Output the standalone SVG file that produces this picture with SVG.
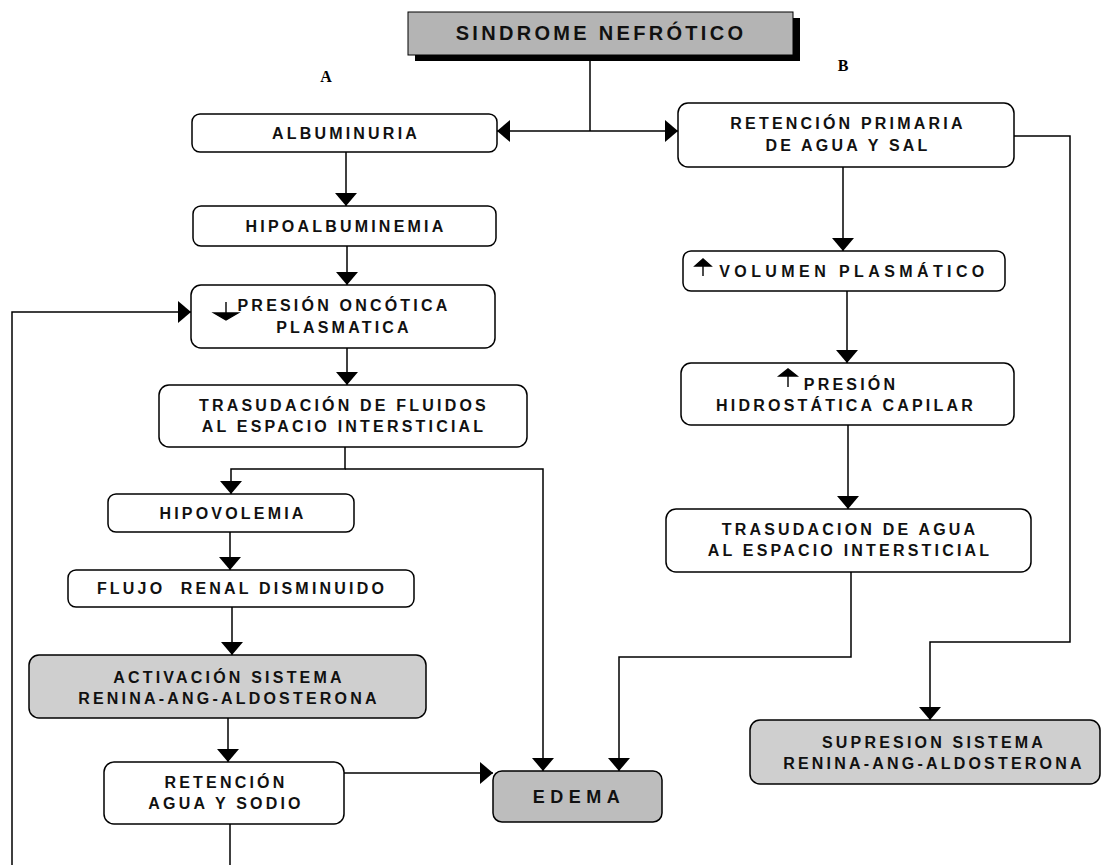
<svg xmlns="http://www.w3.org/2000/svg" width="1108" height="865" viewBox="0 0 1108 865">
<defs>
<marker id="ah" viewBox="0 0 13 22" refX="13" refY="11" markerWidth="13" markerHeight="22" markerUnits="userSpaceOnUse" orient="auto">
<path d="M0,0 L13,11 L0,22 z" fill="#000"/>
</marker>
<style>
.box{fill:#fff;stroke:#000;stroke-width:1.5}
.g1{fill:#cfcfcf;stroke:#000;stroke-width:1.5}
.g2{fill:#bdbdbd;stroke:#000;stroke-width:1.5}
.t{font-family:"Liberation Sans",Arial,sans-serif;font-weight:bold;font-size:16px;letter-spacing:3.2px;fill:#111;text-anchor:middle}
.title{font-family:"Liberation Sans",Arial,sans-serif;font-weight:bold;font-size:20px;letter-spacing:3.3px;fill:#111;text-anchor:middle}
.lab{font-family:"Liberation Serif","Times New Roman",serif;font-weight:bold;font-size:16px;fill:#000;text-anchor:middle}
.c{fill:none;stroke:#000;stroke-width:1.5}
.ca{fill:none;stroke:#000;stroke-width:1.5;marker-end:url(#ah)}
.sym{fill:#000;stroke:#000;stroke-width:1.4}
</style>
</defs>
<rect width="1108" height="865" fill="#fff"/>

<g id="connectors">
<path class="c" d="M590,61 V131"/>
<path class="ca" d="M590,131 H497"/>
<path class="ca" d="M590,131 H678"/>
<path class="ca" d="M346,152 V206"/>
<path class="ca" d="M347,246 V285"/>
<path class="ca" d="M347,348 V385"/>
<path class="ca" d="M345,447 V469 H231 V494"/>
<path class="ca" d="M345,469 H543 V771"/>
<path class="ca" d="M230,532 V570"/>
<path class="ca" d="M232,607 V655"/>
<path class="ca" d="M228,718 V762"/>
<path class="ca" d="M344,773 H493"/>
<path class="c" d="M230,824 V865"/>
<path class="ca" d="M12,865 V312 H191"/>
<path class="ca" d="M843,167 V251"/>
<path class="ca" d="M847,291 V363"/>
<path class="ca" d="M848,425 V509"/>
<path class="ca" d="M851,572 V657 H619 V771"/>
<path class="ca" d="M1014,136 H1070 V642 H930 V720"/>
</g>

<g id="title">
<rect x="415" y="18" width="385" height="43" fill="#000"/>
<rect x="408" y="12" width="385" height="43" fill="#b4b4b4" stroke="#000" stroke-width="1"/>
<text class="title" x="601" y="40">SINDROME NEFRÓTICO</text>
</g>

<g id="label-a"><text class="lab" x="326" y="82">A</text></g>
<g id="label-b"><text class="lab" x="843" y="71">B</text></g>

<g id="albuminuria">
<rect class="box" x="192" y="114" width="305" height="38" rx="8"/>
<text class="t" x="346" y="139">ALBUMINURIA</text>
</g>

<g id="retencion-primaria">
<rect class="box" x="678" y="103" width="336" height="64" rx="10"/>
<text class="t" x="848" y="129">RETENCIÓN PRIMARIA</text>
<text class="t" x="848" y="151">DE AGUA Y SAL</text>
</g>

<g id="hipoalbuminemia">
<rect class="box" x="193" y="206" width="303" height="40" rx="8"/>
<text class="t" x="346" y="232">HIPOALBUMINEMIA</text>
</g>

<g id="presion-oncotica">
<rect class="box" x="191" y="285" width="304" height="63" rx="10"/>
<path class="sym" d="M226,302 V313"/>
<path class="sym" d="M214,313 L238,313 L226,320 z"/>
<text class="t" x="344" y="311">PRESIÓN ONCÓTICA</text>
<text class="t" x="344" y="333">PLASMATICA</text>
</g>

<g id="volumen-plasmatico">
<rect class="box" x="683" y="251" width="322" height="40" rx="8"/>
<path class="sym" d="M703,264 V276"/>
<path class="sym" d="M695,266 L711,266 L703,259 z"/>
<text class="t" style="letter-spacing:4.4px" x="854" y="277">VOLUMEN PLASMÁTICO</text>
</g>

<g id="trasudacion-fluidos">
<rect class="box" x="159" y="385" width="368" height="62" rx="10"/>
<text class="t" x="344" y="411">TRASUDACIÓN DE FLUIDOS</text>
<text class="t" x="344" y="432">AL ESPACIO INTERSTICIAL</text>
</g>

<g id="presion-hidrostatica">
<rect class="box" x="681" y="363" width="333" height="62" rx="10"/>
<path class="sym" d="M788,375 V387"/>
<path class="sym" d="M779,376 L797,376 L788,369 z"/>
<text class="t" x="851" y="390">PRESIÓN</text>
<text class="t" x="846" y="411">HIDROSTÁTICA CAPILAR</text>
</g>

<g id="hipovolemia">
<rect class="box" x="108" y="494" width="246" height="38" rx="8"/>
<text class="t" x="233" y="519">HIPOVOLEMIA</text>
</g>

<g id="trasudacion-agua">
<rect class="box" x="666" y="509" width="365" height="63" rx="10"/>
<text class="t" x="850" y="535">TRASUDACION DE AGUA</text>
<text class="t" x="850" y="556">AL ESPACIO INTERSTICIAL</text>
</g>

<g id="flujo-renal">
<rect class="box" x="68" y="570" width="346" height="37" rx="8"/>
<text class="t" x="242" y="594" xml:space="preserve">FLUJO  RENAL DISMINUIDO</text>
</g>

<g id="activacion">
<rect class="g1" x="29" y="655" width="397" height="63" rx="10"/>
<text class="t" x="229" y="683">ACTIVACIÓN SISTEMA</text>
<text class="t" x="229" y="704">RENINA-ANG-ALDOSTERONA</text>
</g>

<g id="retencion-agua-sodio">
<rect class="box" x="104" y="762" width="240" height="62" rx="10"/>
<text class="t" x="226" y="788">RETENCIÓN</text>
<text class="t" x="226" y="809">AGUA Y SODIO</text>
</g>

<g id="edema">
<rect class="g2" x="493" y="771" width="169" height="51" rx="9"/>
<text class="t" style="font-size:18px;letter-spacing:5.5px" x="579" y="803">EDEMA</text>
</g>

<g id="supresion">
<rect class="g1" x="750" y="720" width="350" height="64" rx="10"/>
<text class="t" x="934" y="748">SUPRESION SISTEMA</text>
<text class="t" x="934" y="769">RENINA-ANG-ALDOSTERONA</text>
</g>
</svg>
